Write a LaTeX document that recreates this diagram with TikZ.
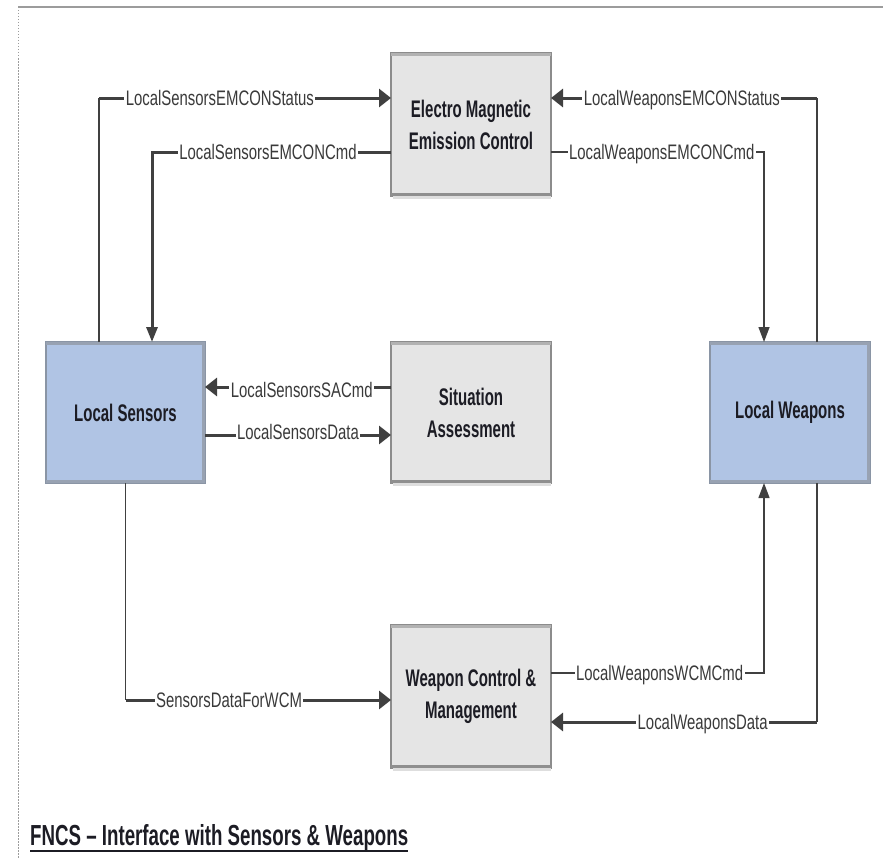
\documentclass[tikz,border=0pt]{standalone}
\usepackage{fontspec}
\setmainfont{Liberation Sans}
\newfontfamily\lblfont{Liberation Sans}[FakeStretch=0.71]
\newfontfamily\boxfont{Liberation Sans}[FakeStretch=0.625]
\newfontfamily\titlefont{Liberation Sans}[FakeStretch=0.645]
\usetikzlibrary{arrows.meta}

\definecolor{boxgray}{HTML}{E5E5E5}
\definecolor{boxblue}{HTML}{B0C4E4}
\definecolor{edgegray}{HTML}{8C8C8C}
\definecolor{edgeblue}{HTML}{8A95A5}
\definecolor{bandgray}{HTML}{B2B2B2}
\definecolor{banddark}{HTML}{8F8F8F}
\definecolor{shadowgray}{HTML}{DEDEDE}
\definecolor{bandblue}{HTML}{98A2B2}
\definecolor{linegray}{HTML}{404040}
\definecolor{lbltext}{HTML}{3A3A3A}
\definecolor{textdark}{HTML}{1C1C24}
\definecolor{framegray}{HTML}{9C9C9C}

\tikzset{
  block/.style={minimum width=160pt, inner sep=0pt, outer sep=0pt,
    line width=1.2pt, align=center, text=textdark,
    font=\boxfont\bfseries\fontsize{24}{32}\selectfont},
  graybox/.style={block, fill=boxgray, draw=edgegray},
  bluebox/.style={block, fill=boxblue, draw=edgeblue},
  wire/.style={draw=linegray, line width=1.3pt},
  heavy/.style={draw=linegray, line width=3pt},
  harrow/.style={-{Triangle[length=12pt,width=18pt]}},
  varrow/.style={-{Triangle[length=15pt,width=11pt]}},
  lbl/.style={fill=white, inner xsep=1.5pt, inner ysep=1pt,
    text height=15pt, text depth=0.5pt, text=lbltext,
    font=\lblfont\fontsize{21}{21}\selectfont},
}

\begin{document}
\begin{tikzpicture}[x=1pt,y=-1pt]
\useasboundingbox (0,0) rectangle (883,859);

% page frame: solid top rule, dotted left rule
\coordinate (frameTL) at (18,7);
\coordinate (frameTR) at (883,7);
\coordinate (frameBL) at (18,859);
\draw[framegray, line width=2pt] (frameTL) -- (frameTR);
\draw[framegray, line width=0.8pt, dash pattern=on 1.5pt off 1.5pt] (frameTL) -- (frameBL);

% function blocks
\node[graybox, minimum height=143pt] (em) at (471,124.5) {Electro Magnetic\\Emission Control};
\node[graybox, minimum height=141pt] (sa) at (471,412.5) {Situation\\Assessment};
\node[graybox, minimum height=143pt] (wcm) at (471,696.5) {Weapon Control \&\\Management};
\node[bluebox, minimum width=159pt, minimum height=141pt] (ls) at (125.5,412.5) {Local Sensors};
\node[bluebox, minimum height=141pt] (lw) at (790,412.5) {Local Weapons};

% bevel bands on the block edges
\foreach \b in {em,sa,wcm} {
  \fill[bandgray] (\b.north west) rectangle ([yshift=-3pt]\b.north east);
  \fill[banddark] ([yshift=3pt]\b.south west) rectangle (\b.south east);
  \fill[shadowgray] ([xshift=2pt]\b.south west) rectangle ([yshift=-3pt]\b.south east);
}
\foreach \b in {ls,lw} {
  \fill[bandblue] (\b.north west) rectangle ([yshift=-3pt]\b.north east);
  \fill[bandblue] ([xshift=-3pt]\b.north east) rectangle (\b.south east);
  \fill[bandblue] ([yshift=3pt]\b.south west) rectangle (\b.south east);
}

% connector corners and rows
\coordinate (cLSst) at (99,98);
\coordinate (cLScmd) at (152,152);
\coordinate (cLWst) at (817,98);
\coordinate (cLWcmd) at (764,152);
\coordinate (rSA) at (0,387);
\coordinate (rData) at (0,435);
\coordinate (rWCMin) at (0,700);
\coordinate (rWCMcmd) at (0,673);
\coordinate (rLWdata) at (0,722);
\coordinate (cWCMin) at (ls.south |- rWCMin);
\coordinate (cLWdata) at (cLWst |- rLWdata);

% EMCON interfaces
\draw[wire] (cLSst |- ls.north) -- (cLSst);
\draw[heavy,harrow] (cLSst) -- node[lbl,pos=0.414]{LocalSensorsEMCONStatus} (em.west |- cLSst);
\draw[heavy,varrow] (em.west |- cLScmd) -- node[lbl,pos=0.515]{LocalSensorsEMCONCmd} (cLScmd) -- (cLScmd |- ls.north);
\draw[wire] (cLWst |- lw.north) -- (cLWst);
\draw[heavy,harrow] (cLWst) -- node[lbl,pos=0.508]{LocalWeaponsEMCONStatus} (em.east |- cLWst);
\draw[wire,varrow] (em.east |- cLWcmd) -- node[lbl,pos=0.52]{LocalWeaponsEMCONCmd} (cLWcmd) -- (cLWcmd |- lw.north);

% situation assessment interfaces
\draw[heavy,harrow] (sa.west |- rSA) -- node[lbl,pos=0.48,yshift=-3pt]{LocalSensorsSACmd} (ls.east |- rSA);
\draw[heavy,harrow] (ls.east |- rData) -- node[lbl,pos=0.5,yshift=3pt]{LocalSensorsData} (sa.west |- rData);

% weapon control interfaces
\draw[wire] (ls.south) -- (cWCMin);
\draw[heavy,harrow] (cWCMin) -- node[lbl,pos=0.39]{SensorsDataForWCM} (wcm.west |- rWCMin);
\draw[wire,varrow] (wcm.east |- rWCMcmd) -- node[lbl,pos=0.51]{LocalWeaponsWCMCmd} (cLWcmd |- rWCMcmd) -- (cLWcmd |- lw.south);
\draw[wire] (cLWst |- lw.south) -- (cLWdata);
\draw[heavy,harrow] (cLWdata) -- node[lbl,pos=0.43]{LocalWeaponsData} (wcm.east |- rLWdata);

% caption
\node[anchor=base west, inner sep=0pt, text=textdark,
      font=\titlefont\bfseries\fontsize{29}{29}\selectfont] (title) at (30,845)
      {FNCS – Interface with Sensors \& Weapons};
\draw[textdark, line width=2pt] (title.south west) -- (title.south east);
\end{tikzpicture}
\end{document}
